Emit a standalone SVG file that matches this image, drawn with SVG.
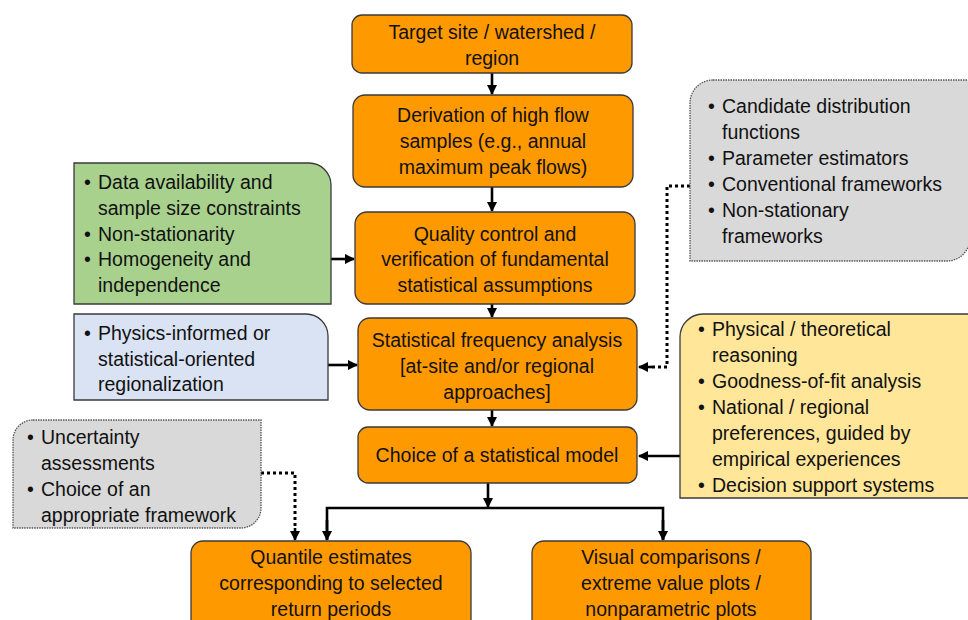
<svg xmlns="http://www.w3.org/2000/svg" width="968" height="620" viewBox="0 0 968 620">
<defs>
<style>
text{font-family:"Liberation Sans",Arial,sans-serif;font-size:19.5px;fill:#111}
.c{text-anchor:middle}
.o{fill:#FF9900;stroke:#3a3a3a;stroke-width:1.3}
.g{fill:#A9D18E;stroke:#3a3a3a;stroke-width:1.3}
.b{fill:#DAE3F3;stroke:#3a3a3a;stroke-width:1.3}
.y{fill:#FFE699;stroke:#3a3a3a;stroke-width:1.3}
.gr{fill:#D9D9D9;stroke:#555;stroke-width:1.3;stroke-dasharray:1.5,1}
.ln{fill:none;stroke:#000;stroke-width:2.6}
.dt{fill:none;stroke:#000;stroke-width:3;stroke-dasharray:3,3}
</style>
<marker id="ah" viewBox="0 0 10 10" refX="9" refY="5" markerWidth="4" markerHeight="4" orient="auto" markerUnits="strokeWidth">
<path d="M0,0 L10,5 L0,10 Z" fill="#000"/>
</marker>
</defs>
<rect width="968" height="620" fill="#fff"/>

<g id="connectors">
<line class="ln" x1="492" y1="73" x2="492" y2="94" marker-end="url(#ah)"/>
<line class="ln" x1="492" y1="187" x2="492" y2="211" marker-end="url(#ah)"/>
<line class="ln" x1="492" y1="304" x2="492" y2="317" marker-end="url(#ah)"/>
<line class="ln" x1="492" y1="410" x2="492" y2="426" marker-end="url(#ah)"/>
<line class="ln" x1="488" y1="483" x2="488" y2="507" marker-end="url(#ah)"/>
<polyline class="ln" points="327,540 327,508 663,508 663,540" fill="none"/>
<line class="ln" x1="327" y1="520" x2="327" y2="540" marker-end="url(#ah)"/>
<line class="ln" x1="663" y1="520" x2="663" y2="540" marker-end="url(#ah)"/>
<line class="ln" x1="331" y1="259" x2="354" y2="259" marker-end="url(#ah)"/>
<line class="ln" x1="328" y1="365" x2="357" y2="365" marker-end="url(#ah)"/>
<line class="ln" x1="680" y1="456" x2="639" y2="456" marker-end="url(#ah)"/>
<polyline class="dt" points="690,186 667,186 667,367 650,367"/>
<line class="ln" x1="652" y1="367" x2="639" y2="367" marker-end="url(#ah)"/>
<polyline class="dt" points="261,473 295,473 295,528"/>
<line class="ln" x1="295" y1="528" x2="295" y2="540" marker-end="url(#ah)"/>
</g>

<g id="n-target">
<rect class="o" x="352" y="15" width="280" height="58" rx="10"/>
<text class="c" x="492" y="39">Target site / watershed /</text>
<text class="c" x="492" y="65">region</text>
</g>
<g id="n-derivation">
<rect class="o" x="353" y="95" width="280" height="92" rx="12"/>
<text class="c" x="493" y="122">Derivation of high flow</text>
<text class="c" x="493" y="148">samples (e.g., annual</text>
<text class="c" x="493" y="174">maximum peak flows)</text>
</g>
<g id="n-quality">
<rect class="o" x="355" y="212" width="280" height="92" rx="12"/>
<text class="c" x="495" y="241">Quality control and</text>
<text class="c" x="495" y="266">verification of fundamental</text>
<text class="c" x="495" y="292">statistical assumptions</text>
</g>
<g id="n-sfa">
<rect class="o" x="358" y="318" width="279" height="92" rx="12"/>
<text class="c" x="497" y="347">Statistical frequency analysis</text>
<text class="c" x="497" y="373">[at-site and/or regional</text>
<text class="c" x="497" y="399">approaches]</text>
</g>
<g id="n-choice">
<rect class="o" x="358" y="427" width="279" height="56" rx="10"/>
<text class="c" x="497" y="462">Choice of a statistical model</text>
</g>
<g id="n-quantile">
<rect class="o" x="191" y="541" width="280" height="95" rx="12"/>
<text class="c" x="331" y="564">Quantile estimates</text>
<text class="c" x="331" y="590">corresponding to selected</text>
<text class="c" x="331" y="616">return periods</text>
</g>
<g id="n-visual">
<rect class="o" x="532" y="541" width="279" height="95" rx="12"/>
<text class="c" x="671" y="564">Visual comparisons /</text>
<text class="c" x="671" y="590">extreme value plots /</text>
<text class="c" x="671" y="616">nonparametric plots</text>
</g>

<g id="n-data">
<path class="g" d="M74,163 H309 A22,22 0 0 1 331,185 V304 H74 Z"/>
<text x="84" y="189">•</text><text x="98" y="189">Data availability and</text>
<text x="98" y="215">sample size constraints</text>
<text x="84" y="241">•</text><text x="98" y="241">Non-stationarity</text>
<text x="84" y="266">•</text><text x="98" y="266">Homogeneity and</text>
<text x="98" y="292">independence</text>
</g>
<g id="n-regional">
<path class="b" d="M74,314 H306 A22,22 0 0 1 328,336 V400 H74 Z"/>
<text x="84" y="340">•</text><text x="98" y="340">Physics-informed or</text>
<text x="98" y="366">statistical-oriented</text>
<text x="98" y="391">regionalization</text>
</g>
<g id="n-candidates">
<path class="gr" d="M713,80 H970 V238 A23,23 0 0 1 947,261 H690 V103 A23,23 0 0 1 713,80 Z"/>
<text x="708" y="113">•</text><text x="722" y="113">Candidate distribution</text>
<text x="722" y="139">functions</text>
<text x="708" y="165">•</text><text x="722" y="165">Parameter estimators</text>
<text x="708" y="191">•</text><text x="722" y="191">Conventional frameworks</text>
<text x="708" y="217">•</text><text x="722" y="217">Non-stationary</text>
<text x="722" y="243">frameworks</text>
</g>
<g id="n-criteria">
<path class="y" d="M703,314 H970 V498 H680 V337 A23,23 0 0 1 703,314 Z"/>
<text x="698" y="336">•</text><text x="712" y="336">Physical / theoretical</text>
<text x="712" y="362">reasoning</text>
<text x="698" y="388">•</text><text x="712" y="388">Goodness-of-fit analysis</text>
<text x="698" y="414">•</text><text x="712" y="414">National / regional</text>
<text x="712" y="440">preferences, guided by</text>
<text x="712" y="466">empirical experiences</text>
<text x="698" y="492">•</text><text x="712" y="492">Decision support systems</text>
</g>
<g id="n-uncertainty">
<path class="gr" d="M33,420 H261 V508 A20,20 0 0 1 241,528 H13 V440 A20,20 0 0 1 33,420 Z"/>
<text x="27" y="444">•</text><text x="41" y="444">Uncertainty</text>
<text x="41" y="470">assessments</text>
<text x="27" y="496">•</text><text x="41" y="496">Choice of an</text>
<text x="41" y="522">appropriate framework</text>
</g>
</svg>
